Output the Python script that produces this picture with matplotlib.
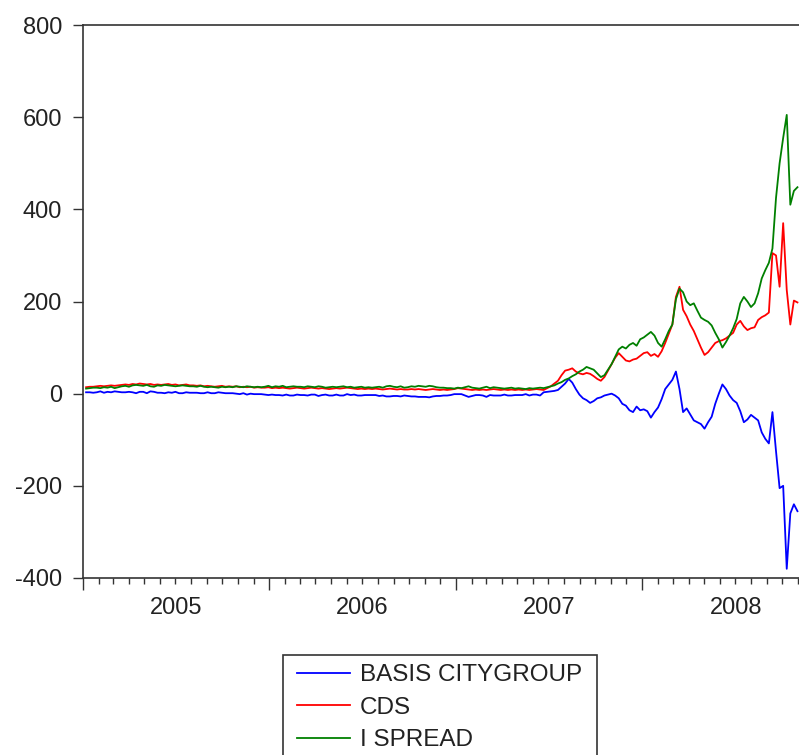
import numpy as np
import pandas as pd
import matplotlib
matplotlib.use('Agg')
import matplotlib.pyplot as plt
import matplotlib.dates as mdates
from matplotlib.patches import Rectangle

plt.rcParams['font.family'] = ['Liberation Sans', 'DejaVu Sans']
plt.rcParams['axes.unicode_minus'] = False

# weekly observations, 2005-01-07 .. 2008-10-31
dates = pd.date_range('2005-01-07', periods=200, freq='W-FRI')

cds = [
    14, 15, 15, 16, 17, 16, 17, 18, 17, 18,
    19, 20, 19, 21, 20, 22, 21, 20, 21, 19,
    20, 19, 20, 21, 19, 20, 18, 19, 20, 18,
    18, 17, 18, 16, 17, 16, 15, 16, 17, 15,
    16, 15, 16, 14, 15, 14, 15, 13, 14, 13,
    13, 14, 12, 13, 12, 13, 12, 11, 12, 13,
    12, 11, 12, 13, 12, 11, 12, 11, 10, 11,
    12, 11, 12, 13, 12, 11, 10, 11, 10, 11,
    10, 11, 10, 9, 10, 11, 10, 9, 10, 9,
    9, 10, 9, 10, 9, 8, 9, 10, 9, 8,
    9, 8, 9, 10, 12, 11, 10, 9, 8, 9,
    8, 9, 8, 9, 10, 9, 8, 9, 8, 9,
    8, 9, 8, 9, 8, 9, 10, 9,
    8, 12, 16, 22, 28, 40, 50, 52, 55, 48,
    44, 42, 45, 43, 38, 32, 28, 36, 50, 64,
    78, 88, 80, 72, 70, 74, 76, 82, 88, 90,
    82, 86, 80, 92, 110, 130, 150, 210, 232, 182,
    168, 150, 136, 118, 100, 84, 90, 100, 110, 114,
    116, 120, 126, 132, 150, 158, 146, 138, 142, 144,
    160, 166, 170, 176, 305, 300, 232, 370, 225, 150,
    202, 198,
]

ispread = [
    11, 12, 13, 13, 12, 14, 13, 15, 12, 14,
    16, 17, 15, 18, 19, 18, 17, 19, 16, 15,
    18, 17, 19, 18, 17, 16, 17, 18, 17, 16,
    16, 15, 17, 15, 14, 15, 14, 13, 15, 14,
    15, 14, 16, 15, 14, 16, 15, 14, 15, 14,
    15, 17, 14, 16, 15, 17, 14, 15, 16, 15,
    15, 14, 16, 15, 14, 16, 15, 13, 14, 15,
    14, 15, 16, 14, 15, 13, 14, 15, 13, 14,
    13, 14, 15, 13, 16, 17, 15, 14, 16, 13,
    14, 16, 15, 17, 16, 15, 17, 16, 14, 13,
    13, 12, 12, 11, 13, 12, 14, 16, 13, 12,
    11, 13, 15, 12, 14, 13, 12, 11, 12, 13,
    11, 12, 11, 10, 12, 11, 12, 13,
    12, 14, 16, 18, 22, 25, 30, 33, 38, 42,
    48, 52, 58, 55, 52, 44, 36, 40, 52, 64,
    80, 96, 102, 98, 106, 110, 104, 118, 122, 128,
    134, 126, 110, 102, 118, 136, 150, 205, 228, 220,
    200, 192, 196, 180, 165, 160, 156, 148, 132, 118,
    100, 112, 126, 142, 162, 196, 210, 200, 188, 196,
    218, 250, 268, 284, 315, 425, 500, 555, 605, 410,
    440, 448,
]

basis = [
    3, 3, 2, 3, 5, 2, 4, 3, 5, 4,
    3, 3, 4, 3, 1, 4, 4, 1, 5, 4,
    2, 2, 1, 3, 2, 4, 1, 1, 3, 2,
    2, 2, 1, 1, 3, 1, 1, 3, 2, 1,
    1, 1, 0, -1, 1, -2, 0, -1, -1, -1,
    -2, -3, -2, -3, -3, -4, -2, -4, -4, -2,
    -3, -3, -4, -2, -2, -5, -3, -2, -4, -4,
    -2, -4, -4, -1, -3, -2, -4, -4, -3, -3,
    -3, -3, -5, -4, -6, -6, -5, -5, -6, -4,
    -5, -6, -6, -7, -7, -7, -8, -6, -5, -5,
    -4, -4, -3, -1, -1, -1, -4, -7, -5, -3,
    -3, -4, -7, -3, -4, -4, -4, -2, -4, -4,
    -3, -3, -3, -1, -4, -2, -2, -4,
    3, 4, 5, 6, 8, 15, 22, 32, 24, 10,
    -2, -10, -14, -20, -16, -10, -8, -4, -2, 0,
    -4, -10, -22, -26, -36, -40, -28, -36, -34, -38,
    -52, -40, -30, -12, 10, 20, 30, 48, 10, -40,
    -32, -45, -58, -62, -66, -76, -62, -50, -22, 0,
    20, 10, -4, -14, -20, -38, -62, -56, -46, -52,
    -58, -84, -98, -108, -40, -125, -205, -200, -380, -260,
    -240, -255,
]

W, H = 799, 755
fig = plt.figure(figsize=(W / 100, H / 100), dpi=100)
ax = fig.add_axes([83 / W, 1 - 578 / H, 1 - 83 / W, (578 - 25) / H])

l1, = ax.plot(dates, basis, color='#0000ff', lw=1.3)
l2, = ax.plot(dates, cds, color='#ff0000', lw=1.3)
l3, = ax.plot(dates, ispread, color='#008000', lw=1.3)

ax.set_ylim(-400, 800)
ax.set_yticks([-400, -200, 0, 200, 400, 600, 800])
ax.set_xlim(pd.Timestamp('2005-01-01'), pd.Timestamp('2008-11-03'))

ax.xaxis.set_major_locator(mdates.YearLocator())
ax.xaxis.set_minor_locator(mdates.MonthLocator())
ax.xaxis.set_major_formatter(plt.NullFormatter())
ax.tick_params(axis='x', which='major', direction='out', length=8.6, width=1, color='#333333')
ax.tick_params(axis='x', which='minor', direction='out', length=4.3, width=1, color='#333333')
ax.tick_params(axis='y', direction='out', length=7.2, width=1, pad=8, labelsize=17,
               color='#333333', labelcolor='#222222')

for yr in [2005, 2006, 2007, 2008]:
    ax.text(pd.Timestamp(f'{yr}-07-02'), -0.054, str(yr), transform=ax.get_xaxis_transform(),
            ha='center', va='center', fontsize=17, color='#222222')

for s in ['left', 'bottom', 'top']:
    ax.spines[s].set_color('#333333')
    ax.spines[s].set_linewidth(1.2)
ax.spines['right'].set_visible(False)

# legend box, its bottom edge falls outside the picture
fig.patches.append(Rectangle((283 / W, 1 - 775 / H), (597 - 283) / W, (775 - 655) / H,
                             transform=fig.transFigure, fill=False, edgecolor='#333333', lw=1.2))
fig.legend([l1, l2, l3], ['BASIS CITYGROUP', 'CDS', 'I SPREAD'],
           loc='upper left', bbox_to_anchor=(297 / W, 1 - 664 / H), frameon=False,
           borderpad=0, borderaxespad=0, handlelength=2.2, handletextpad=0.4,
           labelspacing=0.44, fontsize=17.5, labelcolor='#222222')

fig.savefig('out.png', dpi=100)
